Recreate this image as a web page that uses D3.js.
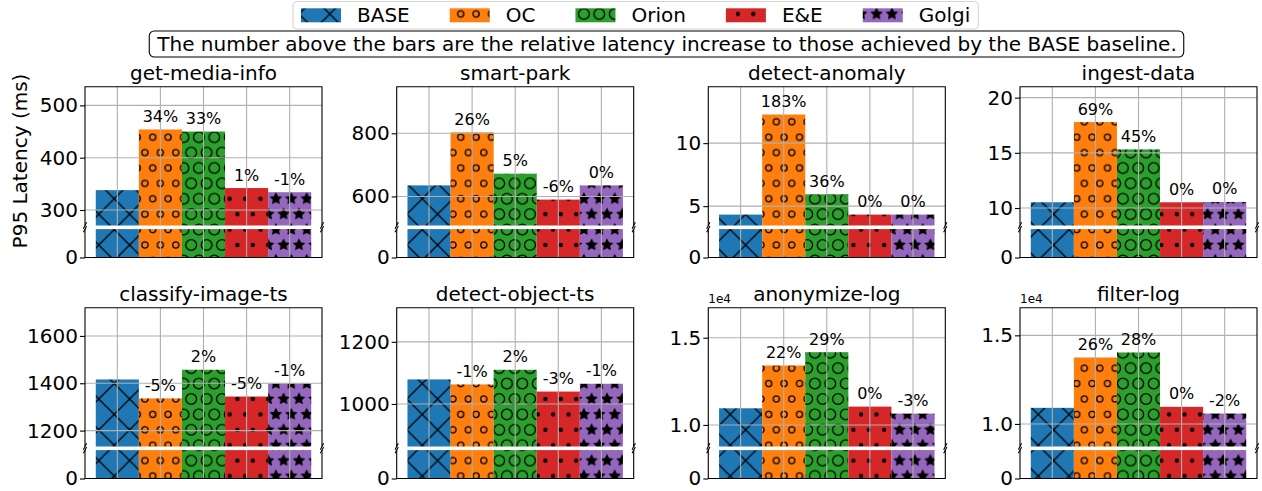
<!DOCTYPE html>
<html><head><meta charset="utf-8">
<script src="https://cdn.jsdelivr.net/npm/d3@7"></script>
<style>
body{margin:0;background:#fff}
svg{display:block}
text{font-family:"DejaVu Sans",sans-serif;fill:#000}
</style>
</head><body>
<svg id="chart" width="1262" height="491"></svg>
<script>
// ---------------- data ----------------
const categories = ["BASE", "OC", "Orion", "E&E", "Golgi"];
const seriesColors = ["#1f77b4", "#ff7f0e", "#2ca02c", "#d62728", "#9467bd"];
const seriesHatches = ["x", "o", "O", ".", "*"];

const panelTitles = ["get-media-info", "smart-park", "detect-anomaly", "ingest-data",
  "classify-image-ts", "detect-object-ts", "anonymize-log", "filter-log"];

// P95 latency (ms) per system: BASE, OC, Orion, E&E, Golgi
const getMediaInfo   = [338, 454, 450, 342, 334];
const smartPark      = [635, 803, 672, 590, 635];
const detectAnomaly  = [4.33, 12.27, 5.94, 4.33, 4.33];
const ingestData     = [10.52, 17.79, 15.31, 10.52, 10.55];
const classifyImage  = [1416, 1336, 1457, 1344, 1399];
const detectObject   = [1079, 1063, 1110, 1040, 1065];
const anonymizeLog   = [10954, 13408, 14172, 11052, 10649];
const filterLog      = [10909, 13750, 14034, 10966, 10585];

// labels printed above the bars (relative increase vs BASE)
const pctGetMediaInfo  = ["", "34%", "33%", "1%", "-1%"];
const pctSmartPark     = ["", "26%", "5%", "-6%", "0%"];
const pctDetectAnomaly = ["", "183%", "36%", "0%", "0%"];
const pctIngestData    = ["", "69%", "45%", "0%", "0%"];
const pctClassifyImage = ["", "-5%", "2%", "-5%", "-1%"];
const pctDetectObject  = ["", "-1%", "2%", "-3%", "-1%"];
const pctAnonymizeLog  = ["", "22%", "29%", "0%", "-3%"];
const pctFilterLog     = ["", "26%", "28%", "0%", "-2%"];

// y tick values of the upper (broken) axis
const ticksGetMediaInfo  = [300, 400, 500];
const ticksSmartPark     = [600, 800];
const ticksDetectAnomaly = [5, 10];
const ticksIngestData    = [10, 15, 20];
const ticksClassifyImage = [1200, 1400, 1600];
const ticksDetectObject  = [1000, 1200];
const ticksAnonymizeLog  = [10000, 15000];
const ticksFilterLog     = [10000, 15000];
const offsetTexts = ["", "", "", "", "", "", "1e4", "1e4"];

const yLabel = "P95 Latency (ms)";
const noteText = "The number above the bars are the relative latency increase to those achieved by the BASE baseline.";

const panelValues = [getMediaInfo, smartPark, detectAnomaly, ingestData, classifyImage, detectObject, anonymizeLog, filterLog];
const panelPcts = [pctGetMediaInfo, pctSmartPark, pctDetectAnomaly, pctIngestData, pctClassifyImage, pctDetectObject, pctAnonymizeLog, pctFilterLog];
const panelTicks = [ticksGetMediaInfo, ticksSmartPark, ticksDetectAnomaly, ticksIngestData, ticksClassifyImage, ticksDetectObject, ticksAnonymizeLog, ticksFilterLog];

// ---------------- layout ----------------
const svg = d3.select("#chart");
const colLeft = [85, 396.7, 708.3, 1020], axW = 237;
const rowTop = [86.7, 307.7], topH = 138.8, gapH = 3.6, botH = 28.4;
const LW = 1.1, HLW = 1.3;
const S = 15.4;               // hatch lattice spacing
const ORX = 145, ORY = 245;   // hatch lattice origin

// ---------------- hatch patterns ----------------
const defs = svg.append("defs");
function starPath(cx, cy, R, r) {
  const pts = [];
  for (let k = 0; k < 10; k++) {
    const a = -Math.PI / 2 + k * Math.PI / 5;
    const rr = k % 2 === 0 ? R : r;
    pts.push([cx + rr * Math.cos(a), cy + rr * Math.sin(a)]);
  }
  return "M" + pts.map(p => p[0].toFixed(2) + "," + p[1].toFixed(2)).join("L") + "Z";
}
seriesHatches.forEach((h, i) => {
  const color = seriesColors[i];
  if (h === "x") {
    const P = 2 * S;
    const pat = defs.append("pattern").attr("id", "hatch" + i).attr("patternUnits", "userSpaceOnUse")
      .attr("x", ORX - S).attr("y", ORY).attr("width", P).attr("height", P);
    pat.append("rect").attr("width", P).attr("height", P).attr("fill", color);
    pat.append("path").attr("d", `M0,0L${P},${P}M0,${P}L${P},0M${-P/2},${P/2}L${P/2},${3*P/2}M${P/2},${-P/2}L${3*P/2},${P/2}M${-P/2},${P/2}L${P/2},${-P/2}M${P/2},${3*P/2}L${3*P/2},${P/2}`)
      .attr("stroke", "#000").attr("stroke-width", HLW).attr("fill", "none");
  } else {
    const pat = defs.append("pattern").attr("id", "hatch" + i).attr("patternUnits", "userSpaceOnUse")
      .attr("x", ORX).attr("y", ORY).attr("width", S).attr("height", 2 * S);
    pat.append("rect").attr("width", S).attr("height", 2 * S).attr("fill", color);
    const pts = [[0, 0], [S, 0], [0, 2 * S], [S, 2 * S], [S / 2, S]];
    pts.forEach(([px, py]) => {
      if (h === "o" || h === "O" || h === ".") {
        const r = h === "o" ? 0.2 * S : h === "O" ? 0.35 * S : 0.1 * S;
        pat.append("circle").attr("cx", px).attr("cy", py).attr("r", r)
          .attr("fill", h === "." ? "#000" : "none").attr("stroke", "#000").attr("stroke-width", HLW);
      } else {
        pat.append("path").attr("d", starPath(px, py, S / 3, S / 6))
          .attr("fill", "#000").attr("stroke", "#000").attr("stroke-width", HLW).attr("stroke-linejoin", "miter");
      }
    });
  }
});

// ---------------- panels ----------------
panelTitles.forEach((title, p) => {
  const r = Math.floor(p / 4), c = p % 4;
  const vals = panelValues[p];
  const x0 = colLeft[c], x1 = x0 + axW;
  const yT = rowTop[r], yTB = yT + topH, yBT = yTB + gapH, yBB = yBT + botH;
  const lo = vals[0] * 0.8, hi = d3.max(vals) * 1.18;

  const x = d3.scaleLinear().domain([-0.75, 4.75]).range([x0, x1]);
  const yTop = d3.scaleLinear().domain([lo, hi]).range([yTB, yT]);
  const yBot = d3.scaleLinear().domain([0, lo]).range([yBB, yBT]);

  const g = svg.append("g");

  // bars (upper part)
  g.selectAll(".barT").data(vals).join("rect")
    .attr("x", (d, i) => x(i - 0.5)).attr("width", (d, i) => x(i + 0.5) - x(i - 0.5))
    .attr("y", d => yTop(d)).attr("height", d => yTop(lo) - yTop(d))
    .attr("fill", (d, i) => `url(#hatch${i})`);
  // bars (lower part)
  g.selectAll(".barB").data(vals).join("rect")
    .attr("x", (d, i) => x(i - 0.5)).attr("width", (d, i) => x(i + 0.5) - x(i - 0.5))
    .attr("y", d => yBot(Math.min(d, lo))).attr("height", d => yBot(0) - yBot(Math.min(d, lo)))
    .attr("fill", (d, i) => `url(#hatch${i})`);

  // grid (drawn above the bars, as matplotlib does)
  const grid = g.append("g").attr("stroke", "#b0b0b0").attr("stroke-width", LW);
  panelTicks[p].forEach(t => {
    grid.append("line").attr("x1", x0).attr("x2", x1).attr("y1", yTop(t)).attr("y2", yTop(t));
  });
  d3.range(5).forEach(i => {
    grid.append("line").attr("x1", x(i)).attr("x2", x(i)).attr("y1", yT).attr("y2", yTB);
    grid.append("line").attr("x1", x(i)).attr("x2", x(i)).attr("y1", yBT).attr("y2", yBB);
  });

  // y axes
  const fmt = offsetTexts[p] ? (v => (v / 1e4).toFixed(1)) : (v => String(v));
  const axT = g.append("g").attr("transform", `translate(${x0},0)`)
    .call(d3.axisLeft(yTop).tickValues(panelTicks[p]).tickFormat(fmt).tickSize(5).tickSizeOuter(0).tickPadding(2));
  const axB = g.append("g").attr("transform", `translate(${x0},0)`)
    .call(d3.axisLeft(yBot).tickValues([0]).tickFormat(d3.format("d")).tickSize(5).tickSizeOuter(0).tickPadding(2));
  [axT, axB].forEach(a => {
    a.select(".domain").remove();
    a.selectAll(".tick line").attr("stroke", "#000").attr("stroke-width", LW);
    a.selectAll(".tick text").attr("font-size", 20).attr("font-family", "DejaVu Sans").attr("fill", "#000");
  });

  // spines
  const sp = g.append("g").attr("stroke", "#000").attr("stroke-width", LW).attr("fill", "none");
  sp.append("path").attr("d", `M${x0},${yTB}V${yT}H${x1}V${yTB}`);
  sp.append("path").attr("d", `M${x0},${yBT}V${yBB}H${x1}V${yBT}`);
  // break marks
  [x0, x1].forEach(bx => {
    [yTB, yBT].forEach(by => {
      sp.append("line").attr("x1", bx - 1.6).attr("y1", by + 3.2).attr("x2", bx + 1.6).attr("y2", by - 3.2);
    });
  });

  // value labels
  g.selectAll(".lbl").data(vals).join("text")
    .attr("x", (d, i) => x(i)).attr("y", d => yTop(d) - 7.5)
    .attr("text-anchor", "middle").attr("font-size", 16)
    .text((d, i) => panelPcts[p][i]);

  // title
  g.append("text").attr("x", (x0 + x1) / 2).attr("y", yT - 6.5)
    .attr("text-anchor", "middle").attr("font-size", 20).text(title);

  if (offsetTexts[p]) {
    g.append("text").attr("x", x0).attr("y", yT - 4.4).attr("font-size", 12).text(offsetTexts[p]);
  }
});

// y label
svg.append("text").attr("transform", "translate(20,161) rotate(-90)")
  .attr("text-anchor", "middle").attr("dominant-baseline", "central")
  .attr("font-size", 20).text(yLabel);

// ---------------- note box ----------------
const note = svg.append("g");
const noteT = note.append("text").attr("x", 667).attr("y", 44).attr("text-anchor", "middle")
  .attr("dy", "0.35em").attr("font-size", 20).text(noteText);
const nb = noteT.node().getBBox();
note.insert("rect", "text").attr("x", nb.x - 7).attr("y", 31).attr("width", nb.width + 14).attr("height", 26)
  .attr("rx", 5).attr("fill", "#fff").attr("stroke", "#000").attr("stroke-width", LW);

// ---------------- legend ----------------
const leg = svg.append("g");
const legBox = leg.append("rect").attr("y", 1.5).attr("height", 27.5).attr("rx", 4)
  .attr("fill", "#fff").attr("stroke", "#d5d5d5").attr("stroke-width", LW);
let cur = 293 + 8;
categories.forEach((cat, i) => {
  leg.append("rect").attr("x", cur).attr("y", 8.3).attr("width", 40).attr("height", 14)
    .attr("fill", `url(#hatch${i})`);
  const t = leg.append("text").attr("x", cur + 56).attr("y", 15.3).attr("dy", "0.35em")
    .attr("font-size", 20).text(cat);
  cur = cur + 56 + t.node().getComputedTextLength() + (i < categories.length - 1 ? 40 : 0);
});
legBox.attr("x", 293).attr("width", cur + 8 - 293);
</script>
</body></html>
